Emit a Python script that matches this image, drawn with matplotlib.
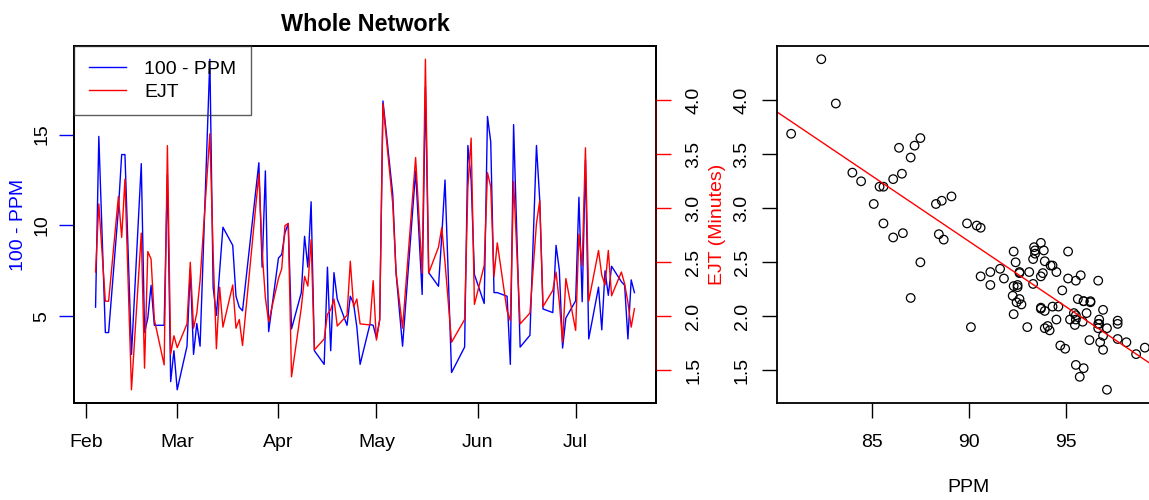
import matplotlib
matplotlib.use("Agg")
import matplotlib.pyplot as plt
import matplotlib.transforms as mtrans
import numpy as np
import pandas as pd

plt.rcParams['font.family'] = ['Liberation Sans', 'DejaVu Sans']

# Daily network figures (working days only)
dates = [
    "2013-02-04", "2013-02-05", "2013-02-07", "2013-02-08",
    "2013-02-11", "2013-02-12", "2013-02-13", "2013-02-15",
    "2013-02-18", "2013-02-19", "2013-02-20", "2013-02-21", "2013-02-22",
    "2013-02-25", "2013-02-26", "2013-02-27", "2013-02-28", "2013-03-01",
    "2013-03-04", "2013-03-05", "2013-03-06", "2013-03-07", "2013-03-08",
    "2013-03-11", "2013-03-12", "2013-03-13", "2013-03-14", "2013-03-15",
    "2013-03-18", "2013-03-19", "2013-03-20", "2013-03-21",
    "2013-03-26", "2013-03-27", "2013-03-28", "2013-03-29",
    "2013-04-01", "2013-04-02", "2013-04-03", "2013-04-04", "2013-04-05",
    "2013-04-08", "2013-04-09", "2013-04-10", "2013-04-11", "2013-04-12",
    "2013-04-15", "2013-04-16", "2013-04-17", "2013-04-18", "2013-04-19",
    "2013-04-22", "2013-04-23", "2013-04-24", "2013-04-25", "2013-04-26",
    "2013-04-29", "2013-04-30", "2013-05-01", "2013-05-02", "2013-05-03",
    "2013-05-06", "2013-05-07", "2013-05-09",
    "2013-05-13", "2013-05-15", "2013-05-16", "2013-05-17",
    "2013-05-20", "2013-05-21", "2013-05-22", "2013-05-24",
    "2013-05-28", "2013-05-29", "2013-05-30", "2013-05-31",
    "2013-06-03", "2013-06-04", "2013-06-05", "2013-06-06", "2013-06-07",
    "2013-06-10", "2013-06-11", "2013-06-12", "2013-06-14",
    "2013-06-17", "2013-06-19", "2013-06-20", "2013-06-21",
    "2013-06-24", "2013-06-25", "2013-06-26", "2013-06-27", "2013-06-28",
    "2013-07-01", "2013-07-02", "2013-07-03", "2013-07-04", "2013-07-05",
    "2013-07-08", "2013-07-09", "2013-07-10", "2013-07-11", "2013-07-12",
    "2013-07-15", "2013-07-16", "2013-07-17", "2013-07-18", "2013-07-19",
]

# 100 - PPM
ppm_gap = [
    5.5, 14.9, 4.1, 4.1,
    10.9, 13.9, 13.9, 2.9,
    13.4, 4.1, 4.9, 6.7, 4.5,
    4.5, 12.8, 1.4, 3.1, 0.95,
    3.35, 7.6, 2.9, 4.6, 3.35,
    19.15, 6.6, 5.05, 7.5, 9.9,
    8.9, 6.1, 5.5, 5.3,
    13.45, 7.7, 13.0, 4.15,
    8.2, 8.4, 9.6, 10.1, 4.3,
    6.3, 9.4, 7.7, 11.3, 3.1,
    2.35, 7.7, 3.1, 7.4, 5.95,
    4.5, 6.1, 5.7, 4.4, 2.35,
    4.55, 4.5, 3.8, 4.8, 16.85,
    11.7, 7.4, 3.35,
    13.0, 6.2, 17.6, 7.4,
    6.65, 9.4, 12.5, 1.9,
    3.3, 14.4, 12.5, 7.3,
    5.7, 16.0, 14.6, 6.3, 6.3,
    6.1, 2.35, 15.55, 3.3,
    3.95, 14.4, 11.4, 5.4,
    5.2, 8.9, 7.55, 3.25, 4.9,
    5.85, 11.55, 5.8, 13.6, 3.75,
    6.6, 4.25, 7.5, 6.15, 7.75,
    6.9, 6.7, 3.75, 7.0, 6.3,
]

# EJT in minutes
ejt = [
    2.41, 3.04, 2.14, 2.14,
    3.11, 2.73, 3.27, 1.32,
    2.77, 1.52, 2.60, 2.53, 1.97,
    1.55, 3.58, 1.65, 1.82, 1.71,
    1.93, 2.50, 1.89, 2.03, 2.33,
    3.69, 2.58, 1.70, 2.27, 1.90,
    2.29, 1.89, 1.97, 1.73,
    3.32, 2.60, 2.17, 1.95,
    2.35, 2.44, 2.84, 2.86, 1.44,
    2.08, 2.37, 2.28, 2.71, 1.69,
    1.79, 2.02, 2.06, 2.16, 1.91,
    2.01, 2.51, 2.09, 2.16, 1.93,
    1.92, 2.33, 1.78, 1.97, 3.97,
    3.04, 2.41, 1.89,
    3.47, 2.40, 4.38, 2.40,
    2.64, 2.82, 2.50, 1.76,
    1.97, 3.20, 3.65, 2.11,
    2.47, 3.33, 3.20, 2.37, 2.68,
    2.05, 1.96, 3.25, 1.93,
    2.03, 2.86, 3.07, 2.09,
    2.24, 2.41, 2.13, 1.76, 2.35,
    1.87, 2.76, 2.47, 3.56, 2.14,
    2.61, 2.38, 2.29, 2.61, 2.19,
    2.41, 2.30, 2.13, 1.90, 2.07,
]

month_labels = ["Feb", "Mar", "Apr", "May", "Jun", "Jul"]
gap_ticks = [5, 10, 15]
ejt_ticks = [1.5, 2.0, 2.5, 3.0, 3.5, 4.0]
ppm_ticks = [85, 90, 95]

t = pd.to_datetime(dates)
gap = np.array(ppm_gap)
ej = np.array(ejt)
ppm = 100 - gap

FS = 14
W, H = 1149, 500
fig = plt.figure(figsize=(W / 100, H / 100), dpi=100)


def frac(x0, y0, x1, y1):
    return [x0 / W, 1 - y1 / H, (x1 - x0) / W, (y1 - y0) / H]


# ---- time series panel ----
ax1 = fig.add_axes(frac(74, 46, 656, 403))
ax2 = ax1.twinx()
l1, = ax1.plot(t, gap, color="blue", lw=1.0)
l2, = ax2.plot(t, ej, color="red", lw=1.0)
ax1.margins(x=0.04, y=0.04)
ax2.margins(y=0.04)

for ax in (ax1, ax2):
    for s in ax.spines.values():
        s.set_linewidth(1.3)
        s.set_color("black")

month_starts = pd.date_range("2013-02-01", periods=len(month_labels), freq="MS")
ax1.set_xticks(month_starts)
ax1.set_xticklabels(month_labels)
ax1.tick_params(axis="x", length=11, width=1.0, pad=11, labelsize=FS)

ax1.set_yticks(gap_ticks)
ax1.set_yticklabels([str(v) for v in gap_ticks], rotation=90, va="center")
ax1.tick_params(axis="y", length=11, width=1.0, pad=6, labelsize=FS, color="blue")

ax2.set_yticks(ejt_ticks)
ax2.set_yticklabels([f"{v:.1f}" for v in ejt_ticks], rotation=90, va="center")
ax2.tick_params(axis="y", length=11, width=1.0, pad=10, labelsize=FS, color="red")
tr = mtrans.blended_transform_factory(ax2.transAxes, ax2.transData)
ax2.plot([1, 1], [ejt_ticks[0], ejt_ticks[-1]], transform=tr, color="#5a0000",
         lw=1.3, clip_on=False, zorder=5)

ax1.set_ylabel("100 - PPM", color="blue", fontsize=FS, va="center")
ax1.yaxis.set_label_coords(-0.0962, 0.5)
ax2.set_ylabel("EJT (Minutes)", color="red", fontsize=FS, va="center")
ax2.yaxis.set_label_coords(1.1065, 0.5)
ax1.set_title("Whole Network", fontsize=16.8, fontweight="bold", pad=11)

leg = ax2.legend([l1, l2], ["100 - PPM", "EJT"], loc="upper left",
                 bbox_to_anchor=(0, 1), borderaxespad=0, fontsize=FS,
                 frameon=True, fancybox=False, handlelength=1.9,
                 handletextpad=0.95, labelspacing=0.25, borderpad=0.75)
leg.get_frame().set_facecolor("none")
leg.get_frame().set_edgecolor("#333333")
leg.get_frame().set_linewidth(1.0)

# ---- scatter panel ----
ax3 = fig.add_axes(frac(777, 46, 1159, 403))
ax3.scatter(ppm, ej, s=38, facecolors="none", edgecolors="black", linewidths=0.9)
ax3.margins(x=0.04, y=0.04)
slope, intercept = np.polyfit(ppm, ej, 1)
x_mid = ppm.mean()
ax3.axline((x_mid, intercept + slope * x_mid), slope=slope, color="red", lw=1.0)
ax3.set_xticks(ppm_ticks)
ax3.set_xticklabels([str(v) for v in ppm_ticks])
ax3.set_yticks(ejt_ticks)
ax3.set_yticklabels([f"{v:.1f}" for v in ejt_ticks], rotation=90, va="center")
ax3.tick_params(axis="x", length=11, width=1.0, pad=11, labelsize=FS)
ax3.tick_params(axis="y", length=11, width=1.0, pad=8, labelsize=FS)
for s in ax3.spines.values():
    s.set_linewidth(1.3)
ax3.set_xlabel("PPM", fontsize=FS, va="center")
ax3.xaxis.set_label_coords(0.5, -0.238)

fig.savefig("out.png", dpi=100)
